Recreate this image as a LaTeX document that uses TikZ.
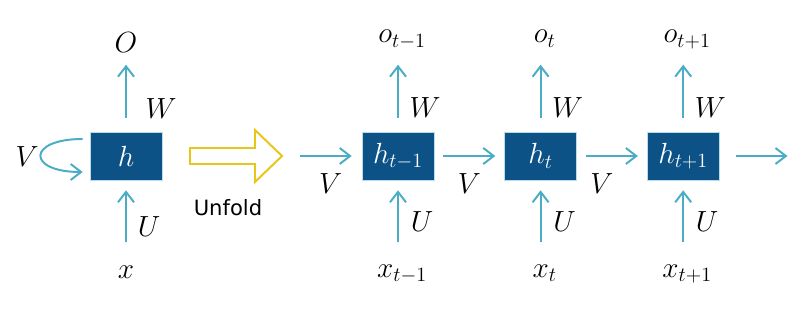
\documentclass[tikz,border=0pt]{standalone}
\usepackage{fontspec}
\newfontfamily\unfoldfont{DejaVu Sans}
\usetikzlibrary{positioning, arrows.meta}
\definecolor{cellblue}{HTML}{0D5287}
\definecolor{flowblue}{HTML}{4BACC6}
\definecolor{unfoldyellow}{HTML}{E8C619}

\begin{document}
\begin{tikzpicture}[
    x=0.025cm, y=0.025cm,
    node distance=1.75cm,
    cell/.style={rectangle, fill=cellblue, draw=flowblue!40, line width=0.4pt, minimum width=1.8cm, minimum height=1.2cm, text=white, font=\fontsize{20}{24}\selectfont},
    lbl/.style={anchor=base, inner sep=0pt, font=\fontsize{20}{24}\selectfont},
    flow/.style={-{Straight Barb[length=2.6mm, width=4mm]}, draw=flowblue, line width=1.4pt}
]

    \useasboundingbox (0,0) rectangle (800,315);

    % Folded network
    \node[cell] (h) at (126,159) {$h$};
    \node[lbl] (o) at ([yshift=2.575cm]h.center) {$O$};
    \node[lbl] (x) at ([yshift=-3.05cm]h.center) {$x$};
    \node[lbl] (w) at ([xshift=0.875cm, yshift=0.925cm]h.center) {$W$};
    \node[lbl] (u) at ([xshift=0.575cm, yshift=-2cm]h.center) {$U$};
    \node[lbl] (v) at (27,148) {$V$};
    \coordinate (top) at ([yshift=1.675cm]h.north);
    \coordinate (bot) at ([yshift=-1.55cm]h.south);

    \draw[flow, shorten <=0.35cm] (h.north) -- (top);
    \draw[flow, shorten >=0.25cm] (bot) -- (h.south);
    \draw[flow] ([xshift=-0.175cm, yshift=0.425cm]h.west)
        .. controls +(-1.4cm,0) and +(-1.4cm,0) .. ([xshift=-0.175cm, yshift=-0.4cm]h.west);

    % Unfold arrow
    \draw[unfoldyellow, line width=1.4pt] (190,167) -- (255,167) -- (255,185) -- (282,159)
        -- (255,133) -- (255,151) -- (190,151) -- cycle;
    \node[font=\unfoldfont\fontsize{15}{18}\selectfont] (unfold) at (228,107) {Unfold};

    % Unfolded network
    \node[cell] (h1) at (398,159) {$h_{t-1}$};
    \node[cell] (h2) [right=of h1] {$h_t$};
    \node[cell] (h3) [right=of h2] {$h_{t+1}$};

    \foreach \c/\s in {h1/{t-1}, h2/t, h3/{t+1}} {
        \node[lbl] (o\c) at ([xshift=0.1cm, yshift=2.825cm]\c.center) {$o_{\s}$};
        \node[lbl] (x\c) at ([xshift=0.1cm, yshift=-3.025cm]\c.center) {$x_{\s}$};
        \node[lbl] (w\c) at ([xshift=0.675cm, yshift=0.95cm]\c.center) {$W$};
        \node[lbl] (u\c) at ([xshift=0.6cm, yshift=-1.875cm]\c.center) {$U$};
        \coordinate (top\c) at ([yshift=1.675cm]\c.north);
        \coordinate (bot\c) at ([yshift=-1.55cm]\c.south);
        \draw[flow, shorten <=0.35cm] (\c.north) -- (top\c);
        \draw[flow, shorten >=0.25cm] (bot\c) -- (\c.south);
    }

    \coordinate (in) at ([xshift=-1.55cm]h1.west);
    \coordinate (out) at ([xshift=1.7cm]h3.east);

    \draw[flow, shorten >=0.25cm] (in) -- node[lbl, yshift=-0.925cm] {$V$} (h1.west);
    \draw[flow, shorten <=0.225cm, shorten >=0.225cm] (h1.east) -- node[lbl, yshift=-0.925cm] {$V$} (h2.west);
    \draw[flow, shorten <=0.225cm, shorten >=0.225cm] (h2.east) -- node[lbl, xshift=-0.25cm, yshift=-0.925cm] {$V$} (h3.west);
    \draw[flow, shorten <=0.4cm] (h3.east) -- (out);

\end{tikzpicture}
\end{document}
